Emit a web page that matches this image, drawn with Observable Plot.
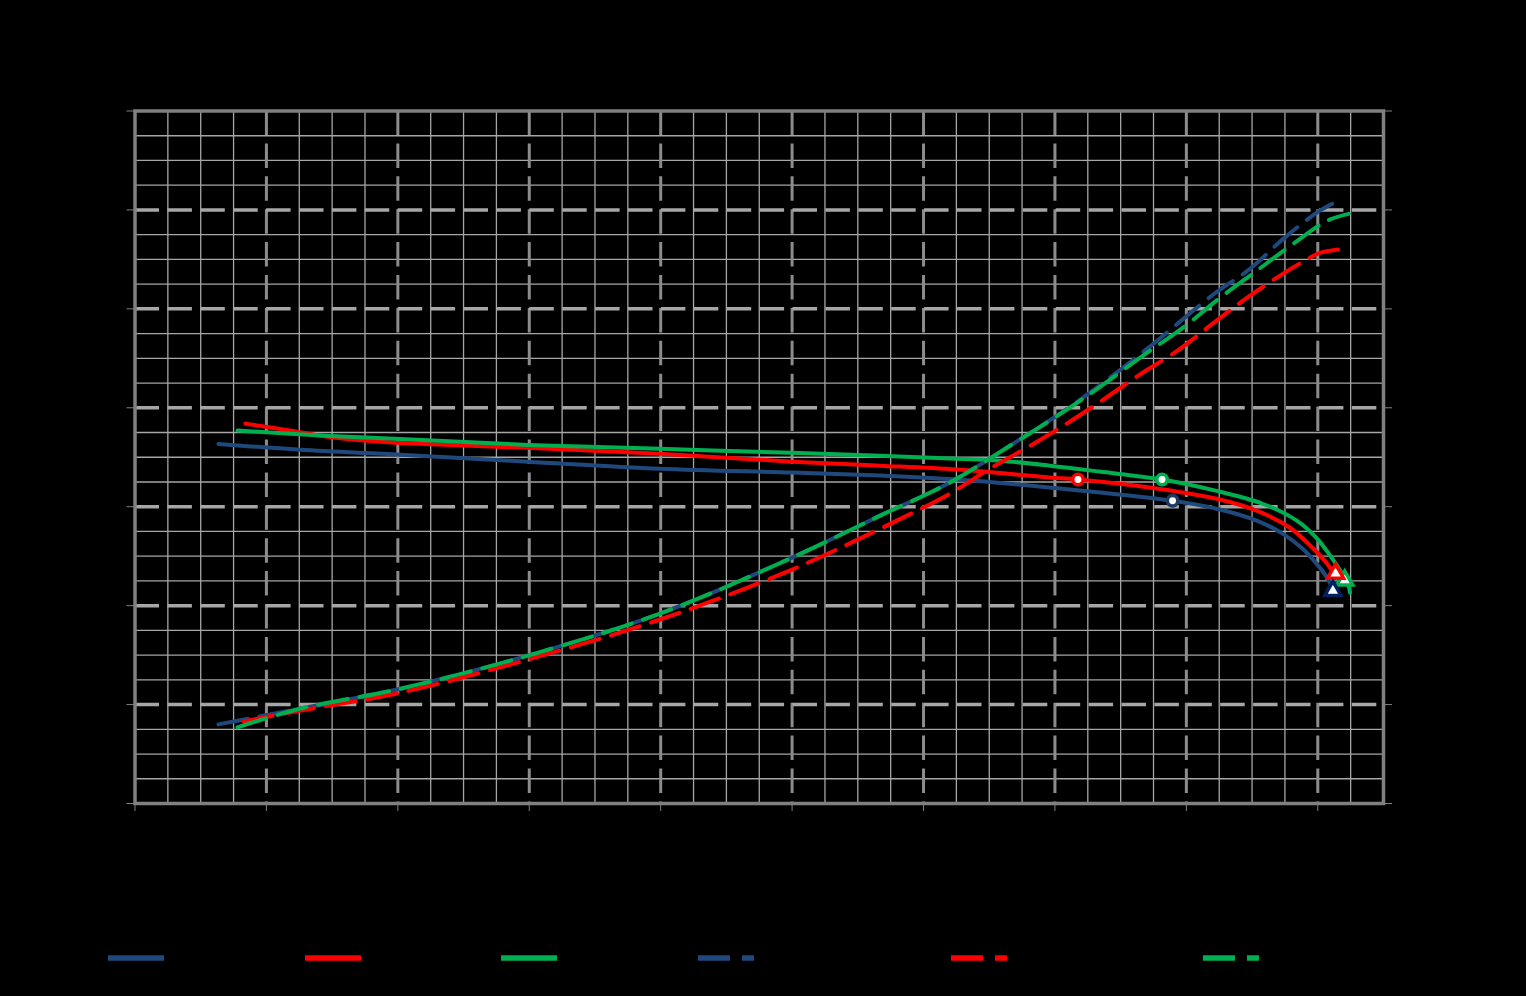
<!DOCTYPE html>
<html>
<head>
<meta charset="utf-8">
<script src="https://cdn.jsdelivr.net/npm/d3@7"></script>
<script src="https://cdn.jsdelivr.net/npm/@observablehq/plot@0.6"></script>
<style>
  html, body { margin: 0; padding: 0; background: #000; }
  #wrap { position: relative; width: 1526px; height: 996px; background: #000; font-family: "Liberation Sans", Arial, sans-serif; }
  #legend { position: absolute; left: 0; top: 930px; }
</style>
</head>
<body>
<div id="wrap"><div id="chart"></div><div id="legend"></div></div>
<script>
// ---- Data ----
const seriesNames = ["Voltage 1", "Voltage 2", "Voltage 3", "Power 1", "Power 2", "Power 3"];
const seriesColors = ["#1F497D", "#FF0000", "#00B050", "#1F497D", "#FF0000", "#00B050"];

// solid curves (left axis)
const blueSolidX = [0.127, 0.252, 0.404, 0.598, 0.799, 1.000, 1.134, 1.251, 1.398, 1.579, 1.646, 1.707, 1.747, 1.777, 1.798, 1.814, 1.823];
const blueSolidY = [0.727, 0.715, 0.705, 0.691, 0.677, 0.669, 0.663, 0.655, 0.638, 0.612, 0.596, 0.572, 0.545, 0.515, 0.485, 0.457, 0.432];

const redSolidX = [0.168, 0.226, 0.297, 0.358, 0.404, 0.598, 0.799, 1.000, 1.134, 1.251, 1.392, 1.435, 1.560, 1.646, 1.707, 1.757, 1.792, 1.814, 1.826];
const redSolidY = [0.768, 0.756, 0.741, 0.733, 0.729, 0.719, 0.707, 0.691, 0.683, 0.675, 0.659, 0.655, 0.636, 0.616, 0.592, 0.558, 0.517, 0.485, 0.461];

const greenSolidX = [0.156, 0.297, 0.404, 0.598, 0.799, 1.000, 1.134, 1.251, 1.316, 1.392, 1.468, 1.563, 1.646, 1.716, 1.768, 1.798, 1.821, 1.837, 1.846, 1.849];
const greenSolidY = [0.754, 0.743, 0.737, 0.725, 0.717, 0.709, 0.703, 0.697, 0.693, 0.683, 0.671, 0.655, 0.632, 0.606, 0.572, 0.537, 0.497, 0.465, 0.444, 0.426];

// dashed curves (right axis)
const blueDashX = [0.127, 0.252, 0.404, 0.598, 0.799, 1.000, 1.134, 1.236, 1.336, 1.438, 1.540, 1.640, 1.697, 1.747, 1.798, 1.824];
const blueDashY = [0.160, 0.192, 0.232, 0.299, 0.384, 0.497, 0.582, 0.646, 0.727, 0.816, 0.919, 1.028, 1.081, 1.141, 1.194, 1.214];

const redDashX = [0.165, 0.252, 0.404, 0.598, 0.799, 1.000, 1.184, 1.245, 1.301, 1.357, 1.418, 1.473, 1.529, 1.586, 1.640, 1.692, 1.747, 1.785, 1.803, 1.837];
const redDashY = [0.166, 0.188, 0.224, 0.291, 0.372, 0.473, 0.588, 0.630, 0.677, 0.719, 0.768, 0.816, 0.867, 0.915, 0.970, 1.022, 1.071, 1.101, 1.113, 1.121];

const greenDashX = [0.156, 0.252, 0.404, 0.598, 0.799, 1.000, 1.134, 1.236, 1.336, 1.438, 1.540, 1.595, 1.651, 1.707, 1.762, 1.814, 1.847];
const greenDashY = [0.154, 0.192, 0.232, 0.299, 0.384, 0.497, 0.582, 0.646, 0.727, 0.814, 0.911, 0.962, 1.022, 1.077, 1.131, 1.178, 1.192];

// marked points
const circleX = [1.435, 1.563, 1.579];
const circleY = [0.655, 0.655, 0.612];
const circleColors = ["#FF0000", "#00B050", "#1F3864"];
const triangleX = [1.841, 1.827, 1.823];
const triangleY = [0.451, 0.465, 0.430];
const triangleColors = ["#00B050", "#FF0000", "#002060"];

// axes
const xMax = 1.9, yMax = 1.4;
const xMajorTicks = [0, 0.2, 0.4, 0.6, 0.8, 1.0, 1.2, 1.4, 1.6, 1.8];
const yMajorTicks = [0, 0.2, 0.4, 0.6, 0.8, 1.0, 1.2, 1.4];

// ---- build tables ----
const toRows = (xs, ys) => xs.map((x, i) => ({x, y: ys[i]}));
const solid = [
  toRows(blueSolidX, blueSolidY), toRows(redSolidX, redSolidY), toRows(greenSolidX, greenSolidY)
];
const dashed = [
  toRows(blueDashX, blueDashY), toRows(redDashX, redDashY), toRows(greenDashX, greenDashY)
];
const circles = circleX.map((x, i) => ({x, y: circleY[i], c: circleColors[i]}));
const triangles = triangleX.map((x, i) => ({x, y: triangleY[i], c: triangleColors[i]}));

const isMajor = (v, step) => Math.abs(v / step - Math.round(v / step)) < 1e-6;
const xMinor = d3.range(0, 39).map(i => i * 0.05).filter(v => v <= xMax + 1e-9 && !isMajor(v, 0.2));
const yMinor = d3.range(0, 29).map(i => i * 0.05).filter(v => v <= yMax + 1e-9 && !isMajor(v, 0.2));
const xMajorGrid = d3.range(1, 10).map(i => i * 0.2);
const yMajorGrid = d3.range(1, 7).map(i => i * 0.2);

const chart = Plot.plot({
  width: 1526,
  height: 930,
  marginLeft: 134.5,
  marginRight: 143,
  marginTop: 110.5,
  marginBottom: 127,
  style: {background: "#000", fontFamily: "Liberation Sans, Arial, sans-serif", fontSize: "14px"},
  x: {domain: [0, xMax], label: null},
  y: {domain: [0, yMax], label: null},
  marks: [
    Plot.ruleX(xMinor, {stroke: "#a6a6a6", strokeWidth: 1.3}),
    Plot.ruleY(yMinor, {stroke: "#a6a6a6", strokeWidth: 1.3}),
    Plot.ruleX(xMajorGrid, {stroke: "#8c8c8c", strokeWidth: 3, strokeDasharray: "24.5,8.4"}),
    Plot.ruleY(yMajorGrid, {stroke: "#a6a6a6", strokeWidth: 3.5, strokeDasharray: "24.5,8.4"}),
    Plot.frame({stroke: "#808080", strokeWidth: 3.5}),
    Plot.axisX({ticks: xMajorTicks, tickSize: 8, stroke: "#808080", fill: "black", tickFormat: ".1f", label: null}),
    Plot.axisY({anchor: "left", ticks: yMajorTicks, tickSize: 8, stroke: "#808080", fill: "black", tickFormat: ".1f", label: null}),
    Plot.axisY({anchor: "right", ticks: yMajorTicks, tickSize: 8, stroke: "#808080", fill: "black", tickFormat: ".1f", label: null}),
    ...solid.map((rows, i) => Plot.line(rows, {x: "x", y: "y", stroke: seriesColors[i], strokeWidth: 4, curve: "catmull-rom"})),
    ...dashed.map((rows, i) => Plot.line(rows, {x: "x", y: "y", stroke: seriesColors[i + 3], strokeWidth: 4, strokeDasharray: "30,12", curve: "catmull-rom"})),
    Plot.dot(circles, {x: "x", y: "y", r: 5.2, fill: "white", stroke: "c", strokeWidth: 3.5}),
    Plot.dot(triangles, {x: "x", y: "y", r: 6, symbol: "triangle", fill: "white", stroke: "c", strokeWidth: 3.5})
  ]
});
document.getElementById("chart").appendChild(chart);

// ---- legend (below the plot) ----
const legendLeft = [108, 305, 501, 698, 951, 1203];
const lg = d3.select("#legend").append("svg").attr("width", 1526).attr("height", 66);
seriesNames.forEach((name, i) => {
  const g = lg.append("g").attr("transform", `translate(${legendLeft[i]},28)`);
  g.append("line").attr("x1", 0).attr("x2", 56).attr("y1", 0).attr("y2", 0)
    .attr("stroke", seriesColors[i]).attr("stroke-width", 5.5)
    .attr("stroke-dasharray", i >= 3 ? "32,12" : null);
  g.append("text").attr("x", 62).attr("y", 5).attr("fill", "black")
    .attr("font-size", 15).attr("font-family", "Liberation Sans, Arial, sans-serif").text(name);
});
</script>
</body>
</html>
